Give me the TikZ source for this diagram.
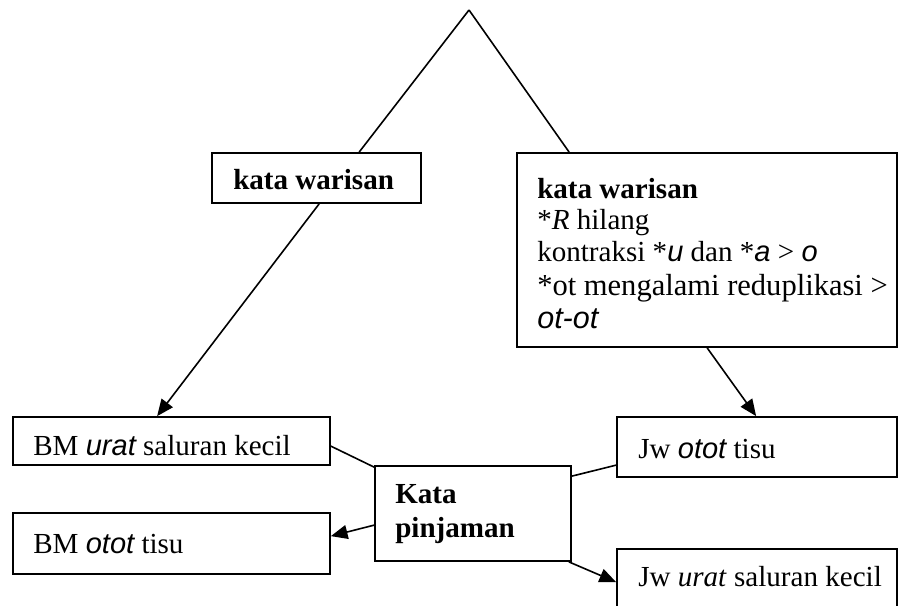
\documentclass[tikz,border=0pt]{standalone}
\usepackage{fontspec}
\setmainfont{Liberation Serif}
\newfontfamily\arialf{Liberation Sans}
\usetikzlibrary{fit,calc,arrows.meta}
\newcommand{\si}[1]{{\arialf\itshape #1}}
\begin{document}
\begin{tikzpicture}[x=0.75pt,y=-0.75pt,
  box/.style={draw,line width=1.3pt,inner sep=0pt},
  txt/.style={inner sep=0pt,anchor=base west,font=\fontsize{21.8}{26}\selectfont},
  ln/.style={line width=1.2pt},
  arr/.style={line width=1.2pt,-{Triangle[length=12.5pt,width=10.5pt]}}]
\useasboundingbox (0,0) rectangle (899,606);
\clip (0,0) rectangle (899,606);
\coordinate (apex) at (469,10);
% boxes
\node[box,fit={(212,153) (421,203)}] (kw1) {};
\node[box,fit={(517,153) (897,347)}] (kw2) {};
\node[box,fit={(13,417) (330,465)}] (bmu) {};
\node[box,fit={(13,513) (330,574)}] (bmo) {};
\node[box,fit={(375,466) (571,561)}] (kp) {};
\node[box,fit={(617,417) (897,477)}] (jwo) {};
\node[box,fit={(617,549) (897,630)}] (jwu) {};
% texts
\node[txt] (t1) at (233,190) {\textbf{kata warisan}};
\node[txt] (t2a) at (537,199) {\textbf{kata warisan}};
\node[txt] (t2b) at (537,229) {*\textit{R} hilang};
\node[txt] (t2c) at (537,261) {kontraksi *\si{u} dan *\si{a} > \si{o}};
\node[txt,font=\fontsize{22.9}{28}\selectfont] (t2d) at (537,295) {*ot mengalami reduplikasi >};
\node[txt,font=\fontsize{22.9}{28}\selectfont] (t2e) at (537,328) {\si{ot-ot}};
\node[txt] (t3) at (33,455) {BM \si{urat} saluran kecil};
\node[txt] (t4) at (33,553) {BM \si{otot} tisu};
\node[txt] (t5a) at (395,503) {\textbf{Kata}};
\node[txt] (t5b) at (395,537) {\textbf{pinjaman}};
\node[txt] (t6) at (638,458) {Jw \si{otot} tisu};
\node[txt] (t7) at (638,586) {Jw \textit{urat} saluran kecil};
% connectors
\draw[ln] (apex) -- ($(kw1.north west)+(148,0)$);
\draw[ln] (apex) -- ($(kw2.north west)+(53,0)$);
\draw[arr] ($(kw1.south west)+(108,0)$) -- ($(bmu.north west)+(145,0)$);
\draw[arr] ($(kw2.south west)+(191,0)$) -- ($(jwo.north west)+(140,0)$);
\draw[ln] ($(bmu.north east)+(0,30)$) -- ($(kp.north west)+(0,2)$);
\draw[arr] ($(kp.north west)+(0,60)$) -- ($(bmo.north east)+(0,24)$);
\draw[ln] ($(kp.north east)+(0,11)$) -- ($(jwo.north west)+(0,49)$);
\draw[arr] ($(kp.south east)+(-3,0)$) -- ($(jwu.north west)+(0,34)$);
\end{tikzpicture}
\end{document}
